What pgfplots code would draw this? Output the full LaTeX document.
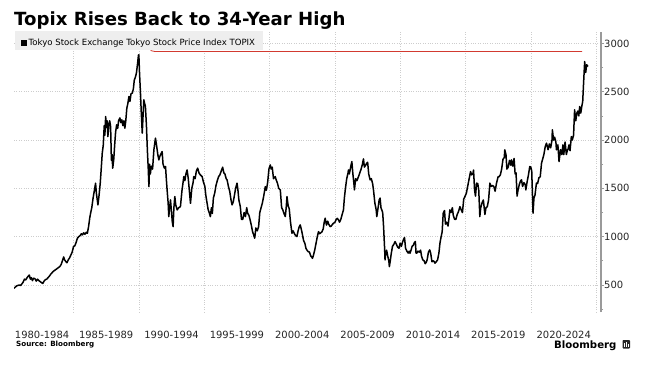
\documentclass[border=0pt]{standalone}
\usepackage{pgfplots}
\pgfplotsset{compat=1.18}
\usepackage{fontspec}
\setmainfont{DejaVu Sans}
\definecolor{gridc}{HTML}{CDCDCD}
\definecolor{axc}{HTML}{9A9A9A}
\definecolor{legc}{HTML}{EEEEEE}
\definecolor{redl}{HTML}{D23A30}
\begin{document}
\begin{tikzpicture}[x=1bp,y=1bp]
\path[use as bounding box] (0,0) rectangle (655,371);
\begin{axis}[
  at={(14bp,59bp)}, anchor=south west,
  width=587bp, height=280bp, scale only axis,
  xmin=1980.45, xmax=2025.35, ymin=220, ymax=3119,
  separate axis lines,
  axis x line*=bottom, axis y line*=right,
  x axis line style={draw=none},
  y axis line style={axc, line width=2bp},
  xtick={1982.6,1987.5,1992.5,1997.5,2002.5,2007.5,2012.5,2017.5,2022.5},
  xticklabels={1980-1984,1985-1989,1990-1994,1995-1999,2000-2004,2005-2009,2010-2014,2015-2019,2020-2024},
  major x tick style={draw=none},
  minor xtick={1985,1990,1995,2000,2005,2010,2015,2020,2025},
  minor x tick style={draw=none},
  xminorgrids,
  minor x grid style={gridc, dotted, line width=0.6bp},
  ytick={500,1000,1500,2000,2500,3000},
  minor ytick={250,750,1250,1750,2250,2750},
  ymajorgrids,
  major y grid style={gridc, dotted, line width=0.6bp},
  tick align=outside,
  major tick length=3bp, minor tick length=2bp,
  y tick style={axc, line width=0.8bp},
  xticklabel style={anchor=north, inner sep=0pt, yshift=-16bp, font=\fontsize{10}{12}\selectfont, text=black!85},
  yticklabel style={anchor=west, inner sep=0pt, font=\fontsize{10}{12}\selectfont, text=black!85},
  /pgf/number format/assume math mode=true,
  /pgf/number format/set thousands separator={},
]
\addplot[redl, line width=0.8bp] coordinates {(1990.85,2945) (1990.95,2925) (1991.2,2918) (2023.9,2918)};
\addplot[black, line width=1.5bp, line join=round] coordinates {
(1980.45,466)(1980.55,478)(1980.65,490)(1980.75,495)(1980.85,500)(1980.95,494)
(1981.05,510)(1981.15,530)(1981.25,560)(1981.35,552)(1981.45,575)(1981.55,593)(1981.62,603)(1981.7,560)(1981.78,575)(1981.86,545)(1981.95,570)
(1982.05,565)(1982.15,540)(1982.25,560)(1982.35,545)(1982.45,535)(1982.55,525)(1982.65,515)(1982.75,540)(1982.85,555)(1982.95,560)
(1983.05,575)(1983.15,590)(1983.25,610)(1983.35,625)(1983.45,640)(1983.55,650)(1983.65,660)(1983.75,670)(1983.85,680)(1983.95,690)
(1984.05,710)(1984.15,750)(1984.25,790)(1984.32,760)(1984.4,745)(1984.5,730)(1984.6,760)(1984.7,780)(1984.8,810)(1984.9,840)
(1985.0,897)(1985.1,905)(1985.2,940)(1985.3,984)(1985.4,1000)(1985.5,1010)(1985.6,1030)(1985.68,1018)(1985.78,1040)(1985.88,1025)(1985.98,1045)
(1986.06,1035)(1986.15,1100)(1986.25,1200)(1986.31,1243)(1986.4,1300)(1986.5,1400)(1986.6,1480)(1986.69,1554)(1986.75,1450)(1986.82,1380)(1986.87,1329)(1986.95,1420)
(1987.05,1560)(1987.12,1700)(1987.2,1864)(1987.28,1950)(1987.35,2150)(1987.4,2050)(1987.46,2244)(1987.52,2130)(1987.58,2200)(1987.63,2036)(1987.7,2150)(1987.77,2200)(1987.84,2140)(1987.9,1790)(1987.95,1850)
(1988.0,1709)(1988.08,1800)(1988.15,1950)(1988.22,2080)(1988.3,2158)(1988.38,2120)(1988.45,2200)(1988.55,2230)(1988.62,2180)(1988.7,2210)(1988.78,2150)(1988.86,2200)(1988.93,2123)
(1989.0,2200)(1989.08,2330)(1989.16,2380)(1989.24,2451)(1989.32,2400)(1989.4,2480)(1989.5,2486)(1989.58,2530)(1989.65,2620)(1989.75,2658)(1989.82,2700)(1989.9,2790)(1989.97,2880)
(1990.0,2883)(1990.05,2700)(1990.12,2500)(1990.18,2300)(1990.26,2072)(1990.32,2250)(1990.38,2417)(1990.44,2380)(1990.5,2350)(1990.58,2150)(1990.65,1900)(1990.72,1700)(1990.77,1518)(1990.82,1750)(1990.88,1650)(1990.95,1730)
(1991.05,1700)(1991.15,1900)(1991.27,2020)(1991.35,1950)(1991.45,1850)(1991.53,1795)(1991.6,1830)(1991.7,1860)(1991.78,1881)(1991.85,1750)(1991.95,1710)
(1992.04,1726)(1992.1,1600)(1992.18,1450)(1992.24,1350)(1992.29,1208)(1992.35,1300)(1992.42,1381)(1992.5,1250)(1992.56,1150)(1992.62,1104)(1992.68,1300)(1992.75,1415)(1992.82,1330)(1992.93,1277)
(1993.05,1300)(1993.18,1311)(1993.3,1480)(1993.38,1560)(1993.44,1622)(1993.52,1580)(1993.6,1650)(1993.69,1691)(1993.78,1600)(1993.86,1480)(1993.95,1346)
(1994.05,1500)(1994.15,1560)(1994.2,1622)(1994.3,1600)(1994.4,1680)(1994.5,1709)(1994.6,1660)(1994.7,1640)(1994.84,1622)(1994.95,1560)
(1995.05,1520)(1995.12,1430)(1995.22,1346)(1995.3,1280)(1995.38,1250)(1995.47,1208)(1995.55,1300)(1995.62,1240)(1995.7,1400)(1995.8,1450)(1995.9,1530)
(1996.0,1580)(1996.1,1622)(1996.2,1640)(1996.3,1680)(1996.41,1719)(1996.5,1660)(1996.58,1650)(1996.68,1600)(1996.75,1588)(1996.85,1520)(1996.95,1470)
(1997.05,1380)(1997.13,1329)(1997.22,1360)(1997.3,1420)(1997.4,1500)(1997.51,1554)(1997.58,1480)(1997.65,1380)(1997.76,1311)(1997.85,1180)(1997.95,1180)
(1998.05,1250)(1998.15,1208)(1998.25,1300)(1998.32,1243)(1998.42,1220)(1998.5,1180)(1998.6,1120)(1998.7,1050)(1998.78,1020)(1998.86,984)(1998.95,1090)
(1999.05,1060)(1999.16,1104)(1999.25,1250)(1999.35,1300)(1999.45,1350)(1999.55,1420)(1999.67,1518)(1999.75,1480)(1999.85,1560)(1999.95,1700)
(2000.05,1743)(2000.12,1700)(2000.2,1720)(2000.3,1600)(2000.43,1622)(2000.5,1590)(2000.6,1554)(2000.7,1500)(2000.82,1484)(2000.92,1300)
(2001.0,1280)(2001.1,1240)(2001.2,1208)(2001.27,1300)(2001.33,1415)(2001.42,1320)(2001.5,1290)(2001.6,1150)(2001.71,1035)(2001.8,1060)(2001.9,1030)
(2002.0,1010)(2002.09,1001)(2002.18,1060)(2002.26,1100)(2002.34,1122)(2002.42,1080)(2002.5,1030)(2002.6,960)(2002.7,930)(2002.78,880)(2002.85,863)(2002.95,845)
(2003.05,840)(2003.15,800)(2003.22,790)(2003.28,776)(2003.36,810)(2003.45,860)(2003.55,930)(2003.65,1000)(2003.74,1052)(2003.82,1030)(2003.92,1040)
(2004.0,1050)(2004.1,1080)(2004.18,1150)(2004.25,1191)(2004.35,1120)(2004.45,1160)(2004.52,1130)(2004.63,1104)(2004.72,1110)(2004.82,1130)(2004.9,1140)
(2005.0,1150)(2005.1,1180)(2005.18,1190)(2005.27,1173)(2005.35,1150)(2005.45,1180)(2005.55,1230)(2005.65,1277)(2005.72,1400)(2005.8,1500)(2005.9,1600)
(2006.0,1660)(2006.03,1691)(2006.1,1650)(2006.2,1720)(2006.29,1778)(2006.37,1650)(2006.45,1550)(2006.49,1484)(2006.58,1600)(2006.68,1580)(2006.8,1622)(2006.9,1660)
(2007.0,1700)(2007.1,1750)(2007.18,1805)(2007.25,1720)(2007.35,1740)(2007.43,1761)(2007.5,1770)(2007.58,1650)(2007.69,1588)(2007.78,1600)(2007.88,1550)(2007.95,1480)
(2008.05,1350)(2008.15,1280)(2008.2,1208)(2008.3,1300)(2008.38,1380)(2008.45,1400)(2008.52,1300)(2008.58,1277)(2008.65,1250)(2008.72,1100)(2008.8,870)(2008.83,759)(2008.88,820)(2008.95,860)
(2009.05,790)(2009.12,750)(2009.16,690)(2009.22,740)(2009.3,820)(2009.4,900)(2009.5,920)(2009.6,949)(2009.7,920)(2009.8,890)(2009.9,880)(2009.98,932)
(2010.08,900)(2010.16,940)(2010.23,966)(2010.32,990)(2010.4,880)(2010.5,850)(2010.6,830)(2010.68,850)(2010.74,828)(2010.82,860)(2010.9,900)(2010.99,910)
(2011.08,940)(2011.15,950)(2011.2,830)(2011.25,828)(2011.35,850)(2011.45,840)(2011.55,860)(2011.62,800)(2011.72,760)(2011.82,750)(2011.9,720)(2011.98,735)
(2012.05,760)(2012.15,840)(2012.25,863)(2012.32,830)(2012.42,740)(2012.52,750)(2012.6,740)(2012.65,725)(2012.75,740)(2012.85,760)(2012.95,830)
(2013.03,932)(2013.12,1000)(2013.2,1050)(2013.28,1243)(2013.38,1270)(2013.45,1130)(2013.55,1150)(2013.65,1110)(2013.72,1190)(2013.79,1277)(2013.88,1250)(2013.98,1300)
(2014.05,1220)(2014.15,1180)(2014.25,1180)(2014.35,1230)(2014.45,1260)(2014.56,1311)(2014.65,1280)(2014.75,1250)(2014.85,1390)(2014.94,1415)
(2015.05,1450)(2015.15,1520)(2015.25,1590)(2015.37,1674)(2015.45,1640)(2015.55,1650)(2015.6,1690)(2015.68,1480)(2015.75,1420)(2015.83,1554)(2015.92,1550)
(2016.0,1480)(2016.08,1208)(2016.15,1300)(2016.25,1350)(2016.35,1380)(2016.47,1230)(2016.55,1300)(2016.65,1310)(2016.75,1380)(2016.85,1554)(2016.95,1520)
(2017.05,1530)(2017.15,1520)(2017.25,1470)(2017.35,1550)(2017.48,1622)(2017.55,1620)(2017.65,1640)(2017.75,1700)(2017.85,1800)(2017.95,1820)(2017.99,1899)
(2018.08,1850)(2018.15,1700)(2018.25,1720)(2018.35,1790)(2018.45,1740)(2018.5,1795)(2018.6,1730)(2018.7,1810)(2018.78,1650)(2018.85,1660)(2018.93,1420)
(2019.0,1480)(2019.1,1540)(2019.2,1580)(2019.27,1588)(2019.35,1520)(2019.45,1560)(2019.55,1540)(2019.6,1484)(2019.7,1570)(2019.8,1640)(2019.9,1726)(2019.98,1720)
(2020.05,1680)(2020.15,1243)(2020.22,1400)(2020.3,1430)(2020.41,1554)(2020.5,1550)(2020.6,1610)(2020.7,1620)(2020.8,1761)(2020.88,1800)(2020.98,1850)
(2021.08,1930)(2021.18,1968)(2021.3,1900)(2021.4,1960)(2021.5,1920)(2021.6,2000)(2021.63,2106)(2021.72,2000)(2021.8,2030)(2021.9,1980)(2021.94,1899)
(2022.05,1950)(2022.14,1778)(2022.25,1900)(2022.35,1850)(2022.44,1951)(2022.5,1850)(2022.6,1980)(2022.7,1850)(2022.78,1900)(2022.82,1899)(2022.9,1950)(2022.98,1890)
(2023.08,2036)(2023.15,2000)(2023.25,2050)(2023.33,2313)(2023.42,2200)(2023.5,2280)(2023.58,2300)(2023.65,2250)(2023.72,2347)(2023.8,2280)(2023.88,2350)(2023.95,2400)
(2024.02,2600)(2024.1,2813)(2024.18,2700)(2024.25,2780)(2024.35,2762)
};
\end{axis}
% legend box (drawn over the grid, above the red line)
\fill[legc] (15,321) rectangle (263,340);
\fill[black] (20.5,325) rectangle (26.5,331);
\node[anchor=west, inner sep=0pt, font=\fontsize{8.6}{10}\selectfont] at (28.5,328) {Tokyo Stock Exchange Tokyo Stock Price Index TOPIX};
% title
\node[anchor=base west, inner sep=0pt, font=\bfseries\fontsize{18.2}{20}\selectfont] at (14,346) {Topix Rises Back to 34-Year High};
% source
\node[anchor=base west, inner sep=0pt, font=\bfseries\fontsize{7.2}{9}\selectfont] at (16,25) {Source: Bloomberg};
% logo
\node[anchor=base west, inner sep=0pt, font=\bfseries\fontsize{10.2}{12}\selectfont] at (554,23) {Bloomberg};
\fill[black!85, rounded corners=0.8bp] (622.5,22.5) rectangle (630,31);
\fill[white] (624.3,24.5) rectangle (625.2,28.5);
\fill[white] (626.2,24.5) rectangle (627.1,29.5);
\fill[white] (628,24.5) rectangle (628.8,27.5);
\end{tikzpicture}
\end{document}
